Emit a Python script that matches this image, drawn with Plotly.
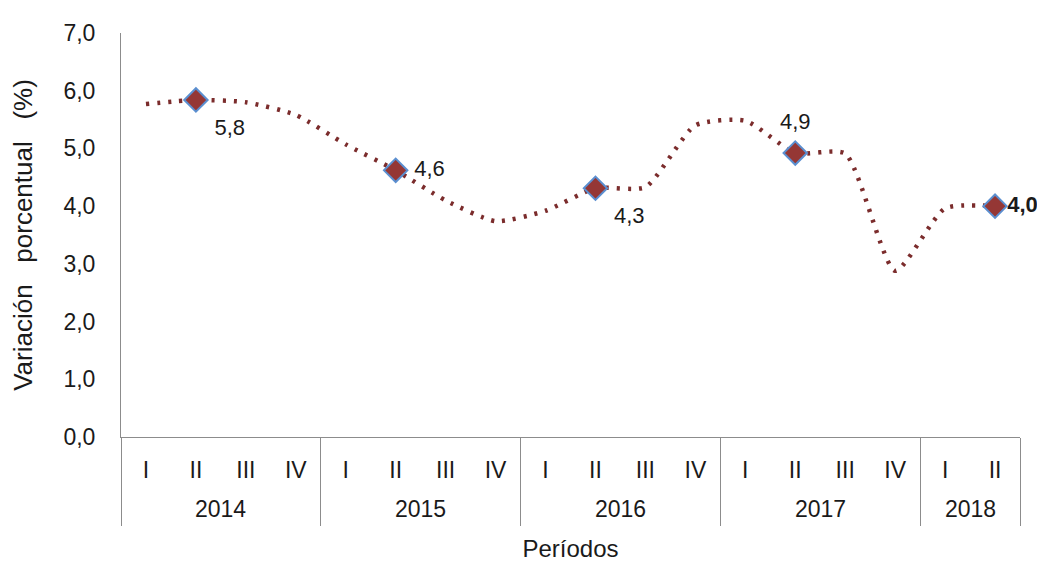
import plotly.graph_objects as go

# quarterly series, % change
years = ["2014"] * 4 + ["2015"] * 4 + ["2016"] * 4 + ["2017"] * 4 + ["2018"] * 2
quarters = ["I", "II", "III", "IV"] * 4 + ["I", "II"]
values = [5.77, 5.84, 5.80, 5.58,
          5.07, 4.62, 4.10, 3.74,
          3.92, 4.31, 4.33, 5.40,
          5.48, 4.92, 4.91, 2.88,
          3.96, 4.00]

# highlighted points (second quarter of every year)
mark_idx = [1, 5, 9, 13, 17]
mark_pos = ["bottom right", "middle right", "bottom right", "top center", "middle right"]
label_gap = [28, 28, 28, 28, 18]

line_col = "#7B2C2C"
axis_col = "#8c8c8c"
font = "Liberation Sans, Arial, sans-serif"

pos = list(range(len(values)))

# year groups -> label centres and divider positions
year_names = sorted(set(years))
year_mid = []
bounds = []
for yr in year_names:
    idx = [i for i, v in enumerate(years) if v == yr]
    year_mid.append(sum(idx) / len(idx))
    bounds.append(idx[0] - 0.5)
bounds.append(len(values) - 0.5)

fig = go.Figure()

fig.add_trace(go.Scatter(
    x=pos,
    y=values,
    mode="lines",
    line=dict(color=line_col, width=4.5, dash="3px,8px", shape="spline", smoothing=0.6),
    hoverinfo="y",
    showlegend=False,
))

mx = [pos[i] for i in mark_idx]
my = [values[i] for i in mark_idx]
labels = [f"{round(v, 1):.1f}".replace(".", ",") for v in my]
labels[-1] = "<b>" + labels[-1] + "</b>"

# labels (offset by an invisible marker)
fig.add_trace(go.Scatter(
    x=mx,
    y=my,
    mode="markers+text",
    marker=dict(size=label_gap, opacity=0),
    text=labels,
    textposition=mark_pos,
    textfont=dict(size=22, color="#1a1a1a", family=font),
    cliponaxis=False,
    hoverinfo="skip",
    showlegend=False,
))

fig.add_trace(go.Scatter(
    x=mx,
    y=my,
    mode="markers",
    marker=dict(symbol="diamond", size=18, color="#953735",
                line=dict(color="#5B8FD0", width=2)),
    cliponaxis=False,
    hoverinfo="y",
    showlegend=False,
))

for yr, m in zip(year_names, year_mid):
    fig.add_annotation(x=m, y=0, xref="x", yref="paper", text=yr,
                       showarrow=False, yanchor="middle", yshift=-72,
                       font=dict(size=23, color="#1a1a1a", family=font))

# page body adds 8px offset, so margins are shifted by it
fig.update_layout(
    width=1045,
    height=561,
    margin=dict(l=112, r=33, t=19, b=132),
    paper_bgcolor="white",
    plot_bgcolor="white",
    separators=",.",
    font=dict(family=font, size=22, color="#1a1a1a"),
)

fig.update_xaxes(
    range=[-0.5, len(values) - 0.5],
    tickmode="array",
    tickvals=pos,
    ticktext=quarters,
    ticks="",
    ticklabelstandoff=12,
    showline=True,
    linecolor=axis_col,
    linewidth=1,
    showgrid=False,
    zeroline=False,
    tickfont=dict(size=23),
    minor=dict(tickmode="array", tickvals=bounds, ticks="outside",
               ticklen=88, tickcolor=axis_col, tickwidth=1, showgrid=False),
    title=dict(text="Períodos", font=dict(size=24), standoff=58),
)

gap = "\u00a0" * 3
fig.update_yaxes(
    range=[0, 7],
    dtick=1,
    tickformat=".1f",
    showline=True,
    linecolor=axis_col,
    linewidth=1,
    showgrid=False,
    zeroline=False,
    ticks="",
    ticklabelstandoff=20,
    tickfont=dict(size=23),
    title=dict(text=f"Variación{gap}porcentual{gap}(%)", font=dict(size=26), standoff=25),
)

fig.write_html("out.html")
